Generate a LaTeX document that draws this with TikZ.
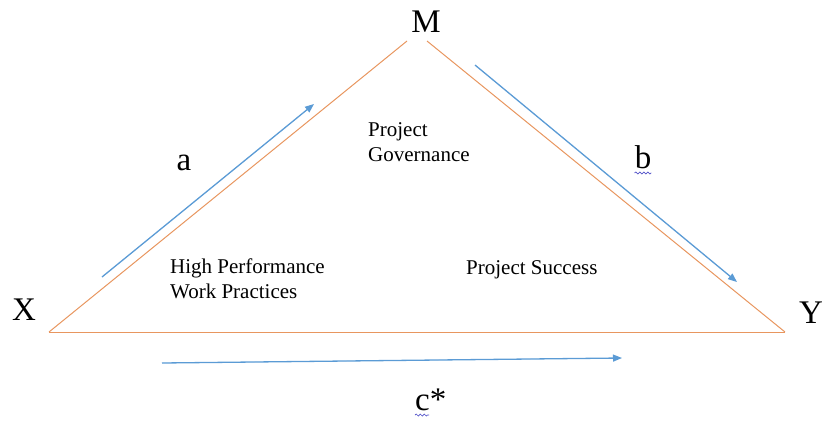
\documentclass[tikz,border=0pt]{standalone}
\usepackage{fontspec}
\setmainfont{Liberation Serif}
\usetikzlibrary{arrows.meta,decorations.pathmorphing}

\definecolor{sideorange}{RGB}{232,150,95}
\definecolor{pathblue}{RGB}{91,155,213}
\definecolor{squigblue}{RGB}{80,80,200}

\begin{document}
\begin{tikzpicture}[
    x=1pt, y=-1pt,
    side/.style={draw=sideorange, line width=1pt},
    arrow/.style={-{Triangle[length=9pt, width=7pt]}, draw=pathblue, fill=pathblue, line width=1.3pt},
    var/.style={font=\fontsize{33}{36}\selectfont, inner sep=0pt, anchor=base},
    construct/.style={font=\fontsize{21}{25}\selectfont, inner sep=0pt, align=left},
    squiggle/.style={draw=squigblue, line width=0.7pt, decorate, decoration={snake, amplitude=1pt, segment length=4pt}}
]
\useasboundingbox (0,0) rectangle (823,421);

% Corners of the triangle
\coordinate (xc) at (49,332);
\coordinate (ml) at (407,41);
\coordinate (mr) at (427,41);
\coordinate (yc) at (785,332);

% Triangle sides
\draw[side] (xc) -- (ml);
\draw[side] (mr) -- (yc);
\draw[side] (xc) -- (yc);

% Path arrows
\coordinate (a0) at (102,277);
\coordinate (a1) at (314,104);
\coordinate (b0) at (475,65);
\coordinate (b1) at (737,282);
\coordinate (c0) at (162,363);
\coordinate (c1) at (622,358);
\draw[arrow] (a0) -- (a1);
\draw[arrow] (b0) -- (b1);
\draw[arrow] (c0) -- (c1);

% Variables
\node[var] (x) at (24,320) {X};
\node[var] (m) at (426,32) {M};
\node[var] (y) at (811,323) {Y};

% Path labels
\node[var] (a) at (184,170) {a};
\node[var] (b) at (643,168) {b};
\node[var, anchor=base west] (c) at (415,410) {c*};
\draw[squiggle] ([yshift=-5pt]b.base west) -- ([yshift=-5pt]b.base east);
\draw[squiggle] ([yshift=-5pt]c.base west) -- ++(14,0);

% Constructs
\node[construct, anchor=north west] (hpwp) at (170,259) {High Performance\\Work Practices};
\node[construct, anchor=north west] (pg) at (368,122) {Project\\Governance};
\node[construct, anchor=base west] (ps) at (466,274) {Project Success};

\end{tikzpicture}
\end{document}
